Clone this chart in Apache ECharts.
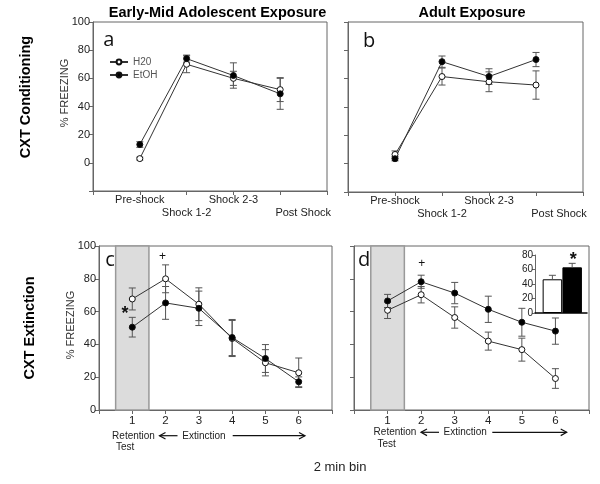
<!DOCTYPE html>
<html><head><meta charset="utf-8">
<script src="https://cdn.jsdelivr.net/npm/echarts@6/dist/echarts.min.js"></script>
<style>html,body{margin:0;padding:0;background:#fff}#c{width:600px;height:484px}</style>
</head><body><div id="c"></div>
<script>
// ---- data ----
const condCategories = ['Pre-shock', 'Shock 1-2', 'Shock 2-3', 'Post Shock'];
const extBins = [1, 2, 3, 4, 5, 6];
const aH2O = [3, 70, 60, 52];
const aH2OErr = [1, 6, 5, 8.5];
const aEtOH = [13, 74, 62, 49];
const aEtOHErr = [2, 2.5, 9, 11];
const bH2O = [6.5, 61.5, 57.8, 55.5];
const bH2OErr = [2.5, 6, 7, 10];
const bEtOH = [3.5, 72, 61.5, 73.5];
const bEtOHErr = [1.5, 4, 5.5, 5];
const cH2O = [67.7, 80, 64.5, 43.6, 28.8, 22.7];
const cH2OErr = [6.7, 8.5, 10, 11, 8, 9];
const cEtOH = [50.5, 65.3, 62, 44.2, 31.4, 17.2];
const cEtOHErr = [6, 10, 10.5, 11, 8.5, 3];
const dH2O = [60.8, 70.3, 56.4, 42, 36.8, 19.2];
const dH2OErr = [5, 5, 6.5, 5.5, 7, 6];
const dEtOH = [66.5, 78.2, 71.3, 61.4, 53.5, 48.1];
const dEtOHErr = [4, 4, 6.5, 8, 8.5, 8];
const shadeRange = [0.5, 1.5];
const insetGroups = ['H20', 'EtOH'];
const insetMeans = [46.5, 63];
const insetErr = [5.5, 5.5];

// ---- helpers ----
const condX = condCategories.map((c, i) => i + 1);
const pts = (xs, m) => xs.map((x, i) => [x, m[i]]);
const errs = (xs, m, e) => xs.map((x, i) => [x, m[i] - e[i], m[i] + e[i]]);
const FONT = 'Liberation Sans, Arial, sans-serif';
const AX = '#666';
const TXT = '#222';

function errRender(topOnly) {
  return function (params, api) {
    const x = api.value(0), lo = api.value(1), hi = api.value(2);
    const a = api.coord([x, lo]), b = api.coord([x, hi]);
    const w = 3.5;
    const st = { stroke: '#555', lineWidth: 1 };
    const ch = [
      { type: 'line', shape: { x1: a[0], y1: a[1], x2: b[0], y2: b[1] }, style: st },
      { type: 'line', shape: { x1: b[0] - w, y1: b[1], x2: b[0] + w, y2: b[1] }, style: st }
    ];
    if (!topOnly) ch.push({ type: 'line', shape: { x1: a[0] - w, y1: a[1], x2: a[0] + w, y2: a[1] }, style: st });
    return { type: 'group', children: ch };
  };
}
function shadeRender(params, api) {
  const p0 = api.coord([api.value(0), 100]);
  const p1 = api.coord([api.value(1), 0]);
  return { type: 'rect', shape: { x: p0[0], y: p0[1], width: p1[0] - p0[0], height: p1[1] - p0[1] },
    style: { fill: '#dcdcdc', stroke: '#999', lineWidth: 1.5 } };
}
function lineSeries(name, xi, yi, data, open) {
  return { type: 'line', name, xAxisIndex: xi, yAxisIndex: yi, data, z: 4,
    symbol: 'circle', symbolSize: 6, showSymbol: true,
    lineStyle: { color: '#333', width: 1 },
    itemStyle: { color: open ? '#fff' : '#000', borderColor: '#111', borderWidth: 1 } };
}
function errSeries(xi, yi, data, topOnly) {
  return { type: 'custom', xAxisIndex: xi, yAxisIndex: yi, data, z: 3,
    encode: { x: 0, y: [1, 2] }, renderItem: errRender(topOnly), silent: true };
}

const gridBase = { show: true, borderColor: AX, borderWidth: 1, backgroundColor: 'transparent', containLabel: false, outerBoundsMode: 'none' };
const grids = [
  Object.assign({ left: 93, top: 22, width: 234, height: 169 }, gridBase),
  Object.assign({ left: 348, top: 22, width: 235, height: 170 }, gridBase),
  Object.assign({ left: 99, top: 246, width: 233, height: 164 }, gridBase),
  Object.assign({ left: 354, top: 246, width: 235, height: 164 }, gridBase),
  { left: 535, top: 255, width: 52, height: 58, show: false, containLabel: false, outerBoundsMode: 'none' }
];

const lblStyle = { fontFamily: FONT, fontSize: 11, color: TXT };
function condAxisRow1(gi) {
  return { gridIndex: gi, type: 'value', min: 0, max: 5, interval: 1,
    axisLine: { onZero: false, lineStyle: { color: AX } }, axisTick: { length: 4, lineStyle: { color: AX } },
    splitLine: { show: false },
    axisLabel: Object.assign({ margin: 3, formatter: v => (v === 1 || v === 3) ? condCategories[v - 1] : '' }, lblStyle) };
}
function condAxisRow2(gi) {
  return { gridIndex: gi, type: 'value', min: 0, max: 5, interval: 1, position: 'bottom',
    axisLine: { show: false, onZero: false }, axisTick: { show: false }, splitLine: { show: false },
    axisLabel: Object.assign({ margin: 16,
      formatter: v => v === 2 ? condCategories[1] : (v === 4 ? '{p|' + condCategories[3] + '}' : ''),
      rich: { p: Object.assign({ padding: [0, 0, 0, 46] }, lblStyle) } }, lblStyle) };
}
function extAxis(gi) {
  return { gridIndex: gi, type: 'value', min: 0, max: 7, interval: 1,
    axisLine: { onZero: false, lineStyle: { color: AX } }, axisTick: { length: 4, lineStyle: { color: AX } },
    splitLine: { show: false },
    axisLabel: Object.assign({ margin: 5, formatter: v => extBins.indexOf(v) >= 0 ? String(v) : '' }, lblStyle, { fontSize: 11.5 }) };
}
function yAx(gi, min, showLabels) {
  return { gridIndex: gi, type: 'value', min, max: 100, interval: 20,
    axisLine: { show: true, onZero: false, lineStyle: { color: AX } }, axisTick: { show: true, length: 4, lineStyle: { color: AX } },
    splitLine: { show: false },
    axisLabel: Object.assign({ show: showLabels, margin: 3, formatter: v => v < 0 ? '' : String(v) }, lblStyle) };
}

const graphics = [
  { type: 'text', x: 217.5, y: 13, style: { text: 'Early-Mid Adolescent Exposure', font: 'bold 14.5px ' + FONT, fill: '#000', align: 'center', verticalAlign: 'middle' } },
  { type: 'text', x: 472, y: 13, style: { text: 'Adult Exposure', font: 'bold 14.5px ' + FONT, fill: '#000', align: 'center', verticalAlign: 'middle' } },
  { type: 'text', x: 26, y: 97, rotation: Math.PI / 2, style: { text: 'CXT Conditioning', font: 'bold 14.5px ' + FONT, fill: '#000', align: 'center', verticalAlign: 'middle' } },
  { type: 'text', x: 30, y: 328, rotation: Math.PI / 2, style: { text: 'CXT Extinction', font: 'bold 14.5px ' + FONT, fill: '#000', align: 'center', verticalAlign: 'middle' } },
  { type: 'text', x: 65, y: 93, rotation: Math.PI / 2, style: { text: '% FREEZING', font: '11px ' + FONT, fill: '#333', align: 'center', verticalAlign: 'middle' } },
  { type: 'text', x: 70.8, y: 325, rotation: Math.PI / 2, style: { text: '% FREEZING', font: '11px ' + FONT, fill: '#333', align: 'center', verticalAlign: 'middle' } },
  { type: 'text', x: 108.7, y: 40, style: { text: 'a', font: '20px Open Sans', fill: '#111', align: 'center', verticalAlign: 'middle' } },
  { type: 'text', x: 369, y: 41, style: { text: 'b', font: '20px Open Sans', fill: '#111', align: 'center', verticalAlign: 'middle' } },
  { type: 'text', x: 110, y: 260.5, style: { text: 'c', font: '20px Open Sans', fill: '#111', align: 'center', verticalAlign: 'middle' } },
  { type: 'text', x: 364, y: 260, style: { text: 'd', font: '20px Open Sans', fill: '#111', align: 'center', verticalAlign: 'middle' } },
  { type: 'text', x: 125, y: 314, style: { text: '*', font: 'bold 18px ' + FONT, fill: '#111', align: 'center', verticalAlign: 'middle' } },
  { type: 'text', x: 573.3, y: 259.8, style: { text: '*', font: 'bold 18px ' + FONT, fill: '#111', align: 'center', verticalAlign: 'middle' } },
  { type: 'text', x: 162.5, y: 256.5, style: { text: '+', font: '12px ' + FONT, fill: '#111', align: 'center', verticalAlign: 'middle' } },
  { type: 'text', x: 421.7, y: 264, style: { text: '+', font: '12px ' + FONT, fill: '#111', align: 'center', verticalAlign: 'middle' } },
  // retention / extinction annotations (c)
  { type: 'text', x: 133.5, y: 436, style: { text: 'Retention', font: '10px ' + FONT, fill: TXT, align: 'center', verticalAlign: 'middle' } },
  { type: 'text', x: 116, y: 447, style: { text: 'Test', font: '10px ' + FONT, fill: TXT, align: 'left', verticalAlign: 'middle' } },
  { type: 'text', x: 204, y: 436, style: { text: 'Extinction', font: '10px ' + FONT, fill: TXT, align: 'center', verticalAlign: 'middle' } },
  { type: 'polyline', shape: { points: [[165.5, 432.5], [159.5, 435.7], [165.5, 439]] }, style: { stroke: '#111', lineWidth: 1.2, fill: null } },
  { type: 'line', shape: { x1: 159.5, y1: 435.7, x2: 177.5, y2: 435.7 }, style: { stroke: '#111', lineWidth: 1.2 } },
  { type: 'line', shape: { x1: 232.7, y1: 435.7, x2: 305, y2: 435.7 }, style: { stroke: '#111', lineWidth: 1.2 } },
  { type: 'polyline', shape: { points: [[299, 432.5], [305, 435.7], [299, 439]] }, style: { stroke: '#111', lineWidth: 1.2, fill: null } },
  // (d)
  { type: 'text', x: 395, y: 432.3, style: { text: 'Retention', font: '10px ' + FONT, fill: TXT, align: 'center', verticalAlign: 'middle' } },
  { type: 'text', x: 377.5, y: 444, style: { text: 'Test', font: '10px ' + FONT, fill: TXT, align: 'left', verticalAlign: 'middle' } },
  { type: 'text', x: 465.2, y: 432.3, style: { text: 'Extinction', font: '10px ' + FONT, fill: TXT, align: 'center', verticalAlign: 'middle' } },
  { type: 'polyline', shape: { points: [[427, 429], [421, 432.3], [427, 435.6]] }, style: { stroke: '#111', lineWidth: 1.2, fill: null } },
  { type: 'line', shape: { x1: 421, y1: 432.3, x2: 439, y2: 432.3 }, style: { stroke: '#111', lineWidth: 1.2 } },
  { type: 'line', shape: { x1: 492.3, y1: 432.3, x2: 566.7, y2: 432.3 }, style: { stroke: '#111', lineWidth: 1.2 } },
  { type: 'polyline', shape: { points: [[560.7, 429], [566.7, 432.3], [560.7, 435.6]] }, style: { stroke: '#111', lineWidth: 1.2, fill: null } },
  { type: 'text', x: 340, y: 467, style: { text: '2 min bin', font: '13px ' + FONT, fill: TXT, align: 'center', verticalAlign: 'middle' } }
].map(g => Object.assign({ z: 100 }, g));

const option = {
  animation: false,
  backgroundColor: '#fff',
  grid: grids,
  legend: { data: ['H20', 'EtOH'], orient: 'vertical', left: 109, top: 57, itemWidth: 18, itemHeight: 6, itemGap: 3,
    textStyle: { fontFamily: FONT, fontSize: 10, color: '#555' }, padding: 0, selectedMode: false },
  xAxis: [
    condAxisRow1(0), condAxisRow2(0), condAxisRow1(1), condAxisRow2(1), extAxis(2), extAxis(3),
    { gridIndex: 4, type: 'value', min: 0.12, max: 2.75, axisLine: { onZero: false, lineStyle: { color: '#000', width: 1.5 } },
      axisTick: { show: false }, axisLabel: { show: false }, splitLine: { show: false } }
  ],
  yAxis: [
    yAx(0, -20, true), yAx(1, -20, false), yAx(2, 0, true), yAx(3, 0, false),
    { gridIndex: 4, type: 'value', min: 0, max: 80, interval: 20,
      axisLine: { show: true, onZero: false, lineStyle: { color: AX } }, axisTick: { show: true, length: 3, lineStyle: { color: AX } },
      splitLine: { show: false }, axisLabel: { margin: 2, fontFamily: FONT, fontSize: 10, color: TXT } }
  ],
  series: [
    // panel a
    errSeries(0, 0, errs(condX, aH2O, aH2OErr)),
    errSeries(0, 0, errs(condX, aEtOH, aEtOHErr)),
    lineSeries('H20', 0, 0, pts(condX, aH2O), true),
    lineSeries('EtOH', 0, 0, pts(condX, aEtOH), false),
    // panel b
    errSeries(2, 1, errs(condX, bH2O, bH2OErr)),
    errSeries(2, 1, errs(condX, bEtOH, bEtOHErr)),
    lineSeries('H20', 2, 1, pts(condX, bH2O), true),
    lineSeries('EtOH', 2, 1, pts(condX, bEtOH), false),
    // panel c
    { type: 'custom', xAxisIndex: 4, yAxisIndex: 2, data: [shadeRange], z: 1, renderItem: shadeRender, encode: { x: [0, 1] }, silent: true },
    errSeries(4, 2, errs(extBins, cH2O, cH2OErr)),
    errSeries(4, 2, errs(extBins, cEtOH, cEtOHErr)),
    lineSeries('H20', 4, 2, pts(extBins, cH2O), true),
    lineSeries('EtOH', 4, 2, pts(extBins, cEtOH), false),
    // panel d
    { type: 'custom', xAxisIndex: 5, yAxisIndex: 3, data: [shadeRange], z: 1, renderItem: shadeRender, encode: { x: [0, 1] }, silent: true },
    errSeries(5, 3, errs(extBins, dH2O, dH2OErr)),
    errSeries(5, 3, errs(extBins, dEtOH, dEtOHErr)),
    lineSeries('H20', 5, 3, pts(extBins, dH2O), true),
    lineSeries('EtOH', 5, 3, pts(extBins, dEtOH), false),
    // inset
    { type: 'bar', xAxisIndex: 6, yAxisIndex: 4, barWidth: 19.5, z: 2,
      data: insetGroups.map((g, i) => ({ name: g, value: [i + 1, insetMeans[i]],
        itemStyle: { color: i === 0 ? '#fff' : '#000', borderColor: '#000', borderWidth: 1 } })) },
    errSeries(6, 4, insetGroups.map((g, i) => [i + 1, insetMeans[i], insetMeans[i] + insetErr[i]]), true)
  ],
  graphic: graphics
};
const chart = echarts.init(document.getElementById('c'), null, { renderer: 'canvas' });
chart.setOption(option);
</script>
</body></html>
